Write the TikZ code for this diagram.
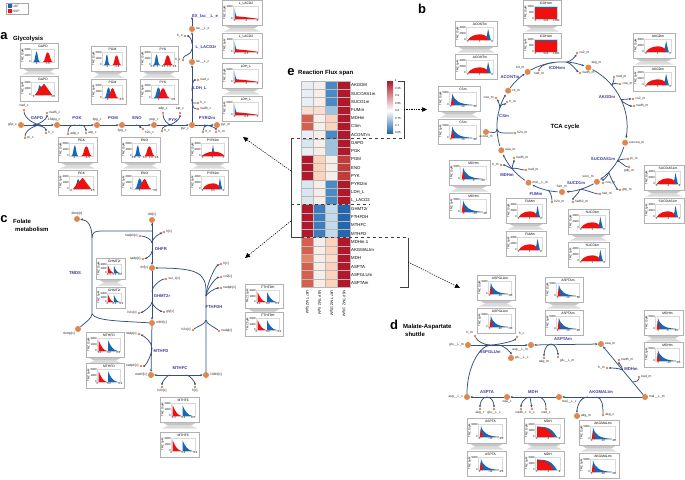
\documentclass[tikz,border=0pt]{standalone}
\usepackage{fontspec}
\setmainfont{Liberation Sans}
\usetikzlibrary{arrows.meta}
\definecolor{morange}{HTML}{E0874E}
\definecolor{pblue}{HTML}{34507F}
\definecolor{rblue}{HTML}{3B3B9E}
\definecolor{ublue}{HTML}{1668B4}
\definecolor{nred}{HTML}{F01010}
\definecolor{hR}{HTML}{B2182B}
\definecolor{hRm}{HTML}{C23A3A}
\definecolor{hR2}{HTML}{D6604D}
\definecolor{hR3}{HTML}{E38468}
\definecolor{hP}{HTML}{FBD3BD}
\definecolor{hP2}{HTML}{F9DDD0}
\definecolor{hP3}{HTML}{FADDCB}
\definecolor{hL}{HTML}{F7EEEA}
\definecolor{hW}{HTML}{E8EEF3}
\definecolor{hW2}{HTML}{D8E6F0}
\definecolor{hB1}{HTML}{9BC3DF}
\definecolor{hB2}{HTML}{C2DAEC}
\definecolor{hB}{HTML}{4A8AC4}
\definecolor{hBm}{HTML}{3B7DBE}
\definecolor{hBD}{HTML}{2567AE}
\tikzset{
 met/.style={circle,fill=morange,draw=none,inner sep=0pt,minimum size=6pt},
 cof/.style={circle,fill=morange,draw=none,inner sep=0pt,minimum size=2.6pt},
 lbl/.style={font=\fontsize{3.3}{3.6}\selectfont,inner sep=0.7pt,text=black!85},
 rlbl/.style={font=\fontsize{4.2}{4.5}\selectfont\bfseries,text=rblue,inner sep=0.5pt},
 rxn/.style={draw=pblue,line width=0.75pt},
 ar/.style={-{Stealth[length=2.6pt,width=2.2pt]}},
 arr2/.style={{Stealth[length=2.6pt,width=2.2pt]}-{Stealth[length=2.6pt,width=2.2pt]}},
 cframe/.style={draw=gray!60,line width=0.8pt,fill=white},
 pframe/.style={draw=gray!30,line width=0.2pt},
 ctitle/.style={font=\fontsize{3.3}{3.5}\selectfont,inner sep=0pt},
 ctick/.style={font=\fontsize{2.8}{3}\selectfont,inner sep=0.5pt},
 cyl/.style={font=\fontsize{2.8}{3}\selectfont,inner sep=0pt},
 hlbl/.style={font=\fontsize{4.3}{4.5}\selectfont,inner sep=0pt},
 hcol/.style={font=\fontsize{3.6}{4}\selectfont,inner sep=0pt},
 plet/.style={font=\fontsize{13}{13}\selectfont\bfseries,inner sep=0pt},
 ptitle/.style={font=\fontsize{6}{6.5}\selectfont\bfseries,inner sep=0pt,anchor=west},
 brk/.style={draw=black!75,line width=0.6pt},
 darr/.style={draw=black,line width=0.55pt,dash pattern=on 1.3pt off 1.1pt,-{Triangle[length=5pt,width=4.5pt]}},
}
% distribution shapes (unit square, y up)
\newcommand\shSep{%
 \fill[ublue] (0.08,0) .. controls (0.16,0) and (0.17,0.85) .. (0.22,0.85) .. controls (0.27,0.85) and (0.28,0) .. (0.36,0) -- cycle;
 \fill[nred] (0.5,0) .. controls (0.6,0) and (0.6,0.78) .. (0.7,0.78) .. controls (0.8,0.78) and (0.82,0) .. (0.92,0) -- cycle;}
\newcommand\shOvl{%
 \fill[ublue] (0.2,0) .. controls (0.28,0) and (0.3,0.8) .. (0.36,0.8) .. controls (0.42,0.8) and (0.45,0) .. (0.55,0) -- cycle;
 \fill[nred] (0.15,0) -- (0.3,0.4) -- (0.55,0.9) -- (0.9,0) -- cycle;}
\newcommand\shOvlB{%
 \fill[ublue] (0.1,0) .. controls (0.2,0) and (0.22,0.85) .. (0.3,0.85) .. controls (0.38,0.85) and (0.42,0) .. (0.5,0) -- cycle;
 \fill[nred] (0.25,0) .. controls (0.35,0) and (0.4,0.8) .. (0.5,0.8) .. controls (0.6,0.8) and (0.65,0) .. (0.78,0) -- cycle;}
\newcommand\shHumpC{%
 \fill[ublue] (0.42,0) -- (0.5,0.9) -- (0.58,0) -- cycle;
 \fill[nred] (0,0) .. controls (0.2,0.3) and (0.4,0.35) .. (0.55,0.35) .. controls (0.75,0.35) and (0.9,0.2) .. (1,0) -- cycle;}
\newcommand\shHump{%
 \fill[ublue] (0.68,0) -- (0.76,0.4) -- (0.8,0.9) -- (0.86,0.3) -- (0.9,0) -- cycle;
 \fill[nred] (0.05,0) .. controls (0.15,0.35) and (0.35,0.45) .. (0.5,0.45) .. controls (0.65,0.45) and (0.75,0.35) .. (0.8,0) -- cycle;}
\newcommand\shDecRB{%
 \fill[nred] (0.05,0) -- (0.05,0.85) .. controls (0.15,0.4) and (0.25,0.05) .. (0.42,0) -- cycle;
 \fill[ublue] (0.46,0) -- (0.46,0.85) .. controls (0.56,0.4) and (0.68,0.05) .. (0.88,0) -- cycle;}
\newcommand\shDecBR{%
 \fill[ublue] (0.04,0) -- (0.04,0.9) .. controls (0.08,0.3) and (0.12,0.1) .. (0.22,0.06) -- (0.22,0) -- cycle;
 \fill[nred] (0.06,0) -- (0.06,0.22) .. controls (0.3,0.2) and (0.7,0.1) .. (0.97,0.02) -- (0.97,0) -- cycle;}
\newcommand\shSpike{%
 \fill[ublue] (0.08,0) -- (0.1,0.92) .. controls (0.18,0.35) and (0.35,0.06) .. (0.85,0.02) -- (0.85,0) -- cycle;
 \fill[nred] (0.05,0) -- (0.09,0.62) -- (0.15,0.25) -- (0.18,0) -- cycle;}
\newcommand\shPlat{\fill[nred] (0.02,0) rectangle (0.98,0.93); \draw[ublue,line width=0.3pt] (0.02,0.95) -- (0.98,0.95);}
\newcommand\shMDH{%
 \fill[ublue] (0.06,0) -- (0.06,0.85) -- (0.4,0.78) .. controls (0.6,0.7) and (0.72,0.45) .. (0.86,0) -- cycle;
 \fill[nred] (0.06,0) -- (0.06,0.8) -- (0.35,0.74) .. controls (0.5,0.65) and (0.62,0.35) .. (0.72,0) -- cycle;}
% one chart: x y w h title shape ylabel xticks yticks
\newcommand\mchart[9]{%
 \begin{scope}[shift={(#1,#2)}]
  \draw[cframe] (0,0) rectangle (#3,#4);
  \node[ctitle] at ({(#3+8)/2},3.2) {#5};
  \node[cyl,rotate=90] at (2.6,{#4/2}) {#7};
  \pgfmathsetmacro\pw{#3-15}\pgfmathsetmacro\ph{#4-12.5}
  \begin{scope}[shift={(11.5,{#4-6})}]
   \begin{scope}[x=\pw pt,y=\ph pt]
    \draw[pframe] (0,0) rectangle (1,1);
    #6
    \foreach \p/\l in {#8} \node[ctick,below] at (\p,0) {\l};
    \foreach \p/\l in {#9} \node[ctick,left] at (0,\p) {\l};
   \end{scope}
  \end{scope}
 \end{scope}}
\newcommand\stand[3]{%
 \fill[gray!45] (#1+3,#2+0.8) -- (#1+#3-3,#2+0.8) -- (#1+#3-8,#2+3.5) -- (#1+8,#2+3.5) -- cycle;
 \fill[gray!28] (#1+8,#2+3.5) -- (#1+#3-8,#2+3.5) -- (#1+#3-2,#2+6.5) -- (#1+2,#2+6.5) -- cycle;}
\def\chH{25}\def\chG{33}
\newcommand\cpair[9]{%
 \mchart{#1}{#2}{#3}{\chH}{#4}{#5}{TMZ 10μM}{#7}{#9}%
 \stand{#1}{#2+\chH}{#3}%
 \mchart{#1}{#2+\chG}{#3}{\chH}{#4}{#6}{TMZ 5μM}{#8}{#9}}
\newcommand\br[5][]{\draw[rxn,#1] (#2) .. controls +(#4) and +(#5) .. (#3);}
\begin{document}
\begin{tikzpicture}[x=1pt,y=-1pt]
\useasboundingbox (0,0) rectangle (685,479);
\fill[white] (0,0) rectangle (685,479);
% legend
\draw[gray!70,line width=0.3pt] (6,3) rectangle (28,14);
\fill[ublue] (7.5,4.3) rectangle (11.5,7.5);
\node[lbl,anchor=west] (legU) at (11.8,6) {U87};
\fill[nred] (7.5,9.3) rectangle (11.5,12.5);
\node[lbl,anchor=west] (legN) at (11.8,11) {NSP};
% panel letters and titles
\node[plet] (la) at (4,36) {a};
\node[ptitle] (ta) at (13,39) {Glycolysis};
\node[plet] (lb) at (422,9) {b};
\node[plet] (lc) at (4,219) {c};
\node[ptitle] (tc1) at (13,221) {Folate};
\node[ptitle] (tc2) at (15,229) {metabolism};
\node[plet] (ld) at (394,325) {d};
\node[ptitle] (td1) at (403,327) {Malate-Aspartate};
\node[ptitle] (td2) at (405,334.5) {shuttle};
\node[plet] (le) at (291,72) {e};
\node[ptitle] (te) at (298,73) {Reaction Flux span};
\node[font=\fontsize{6}{6.5}\selectfont\bfseries] (tb) at (565,127) {TCA cycle};

% ===== charts panel a =====
\cpair{20}{43}{38}{GAPD}{\shSep}{\shOvl}{0.22/1,0.72/1.5}{0.1/1,0.95/1.5}{0/0,0.5/1000,1/2000}
\cpair{91}{46}{35}{PGM}{\shSep}{\shOvlB}{0.22/-1,0.72/-1.4}{0.25/-1,0.95/-1.5}{0/0,0.5/1000,1/2000}
\cpair{140}{46}{38}{PYK}{\shSep}{\shOvlB}{0.05/0.8,0.28/1,0.52/1.2,0.76/1.4,1/1.6}{0.3/1,0.95/1.5}{0/0,0.5/1000,1/2000}
\cpair{58}{137}{39}{PGK}{\shSep}{\shOvl}{0.2/-1,0.75/-1.5}{0.05/-1,0.95/-1.5}{0/0,0.5/1000,1/2000}
\cpair{121}{137}{39}{ENO}{\shSep}{\shOvlB}{0.05/0.8,0.28/1,0.52/1.2,0.76/1.4,1/1.6}{0.3/1,0.95/1.5}{0/0,0.5/1000,1/2000}
\cpair{190}{137}{38}{PYRt2m}{\shHumpC}{\shHump}{0.05/0,0.5/1,0.95/2}{0.05/0,0.5/0.5,0.95/1}{0/0,0.5/2000,1/4000}
\cpair{222}{0}{40}{L\_LACD2}{\shDecBR}{\shDecBR}{0.05/0,0.5/-1,0.95/-2}{0.05/0,0.5/-0.5,0.95/-1}{0/0,1/1000}
\cpair{222}{63}{40}{LDH\_L}{\shDecBR}{\shDecBR}{0.05/0,0.5/-1,0.95/-2}{0.05/0,0.5/-0.5,0.95/-1}{0/0,1/5000}
% ===== charts panel b =====
\cpair{523}{0}{38}{ICDHxm}{\shPlat}{\shPlat}{0.05/0,0.5/500,0.95/1000}{0.05/0,0.5/500,0.95/1000}{0/0,0.5/500,1/1000}
\cpair{455}{21}{42}{ACONTm}{\shHump}{\shHump}{0.05/0,0.5/1,0.95/2}{0.05/0,0.5/1,0.95/2}{0/0,0.5/2000,1/4000}
\cpair{633}{33}{42}{AKGDm}{\shHump}{\shHump}{0.05/0,0.5/1,0.95/2}{0.05/0,0.5/1,0.95/2}{0/0,0.5/2000,1/4000}
\cpair{438}{86}{42}{CSm}{\shSpike}{\shSpike}{0.05/0,0.5/10,0.95/20}{0.05/0,0.5/10,0.95/20}{0/0,1/5000}
\cpair{449}{160}{41}{MDHm}{\shSpike}{\shSpike}{0.12/0,0.5/-5,0.85/-10}{0.12/0,0.55/-10,0.95/-20}{0/0,1/5000}
\cpair{506}{198}{40}{FUMm}{\shHump}{\shHump}{0.05/0,0.5/1,0.95/2}{0.05/0,0.5/1,0.95/2}{0/0,0.5/2000,1/4000}
\cpair{568}{209}{41}{SUCD1m}{\shHump}{\shHump}{0.05/0,0.5/1,0.95/2}{0.05/0,0.5/1,0.95/2}{0/0,0.5/2000,1/4000}
\cpair{644}{165}{40}{SUCOAS1m}{\shHump}{\shHump}{0.05/0,0.5/-1,0.95/-2}{0.05/0,0.5/-1,0.95/-2}{0/0,0.5/2000,1/4000}
% ===== charts panel c =====
\def\chH{21}\def\chG{29}
\cpair{96}{258}{29}{GHMT2r}{\shDecRB}{\shDecRB}{0.1/0.1,0.5/0.2,0.9/0.3}{0/0,0.5/0.2,1/0.4}{0/0,0.5/1000,1/2000}
\def\chH{24}\def\chG{28}
\cpair{245}{284}{38}{FTHFDH}{\shDecRB}{\shDecRB}{0.1/0.1,0.5/0.2,0.9/0.3}{0/0,0.5/0.2,1/0.4}{0/0,0.5/1000,1/2000}
\def\chH{25}\def\chG{31}
\cpair{86}{332}{38}{MTHFD}{\shDecRB}{\shDecRB}{0.1/0.1,0.5/0.2,0.9/0.3}{0/0,0.5/0.2,1/0.4}{0/0,0.5/1000,1/2000}
\def\chH{25}\def\chG{35}
\cpair{160}{397}{39}{MTHFC}{\shDecRB}{\shDecRB}{0.1/0.1,0.5/0.2,0.9/0.3}{0/0,0.5/0.2,1/0.4}{0/0,0.5/1000,1/2000}
% ===== charts panel d =====
\def\chH{25}\def\chG{33}
\cpair{477}{275}{38}{ASPGLUm}{\shSpike}{\shSpike}{0.05/0,0.5/-10,0.95/-20}{0.05/0,0.5/-10,0.95/-20}{0/0,1/5000}
\cpair{545}{277}{38}{ASPTAm}{\shSpike}{\shSpike}{0.05/0,0.5/10,0.95/20}{0.05/0,0.5/10,0.95/20}{0/0,1/5000}
\def\chH{25}\def\chG{32}
\cpair{644}{310}{39}{MDHm}{\shSpike}{\shSpike}{0.12/0,0.5/-5,0.85/-10}{0.12/0,0.55/-10,0.95/-20}{0/0,1/5000}
\def\chH{25}\def\chG{33}
\cpair{467}{418}{39}{ASPTA}{\shSpike}{\shSpike}{0.05/0,0.5/-10,0.95/-20}{0.05/0,0.5/-10,0.95/-20}{0/0,1/5000}
\cpair{524}{418}{40}{MDH}{\shMDH}{\shMDH}{0.05/0,0.5/-1,0.95/-2}{0.05/0,0.5/-1,0.95/-2}{0/0,0.5/1000,1/2000}
\cpair{579}{420}{40}{AKGMALtm}{\shSpike}{\shSpike}{0.05/0,0.5/-10,0.95/-20}{0.05/0,0.5/-10,0.95/-20}{0/0,1/5000}

% ===== panel a pathway =====
\node[met,label={[lbl]left:g3p\_c}] (g3p) at (21,125) {};
\node[met,label={[lbl,xshift=-3pt]above:13dpg\_c}] (dpg) at (57,125) {};
\node[met,label={[lbl]above:3pg\_c}] (pg3) at (97,125) {};
\node[met,label={[lbl]below:2pg\_c}] (pg2) at (122,125) {};
\node[met,label={[lbl]above:pep\_c}] (pep) at (154,125) {};
\node[met,label={[lbl]below left:pyr\_c}] (pyrc) at (192,125) {};
\node[met,label={[lbl]right:pyr\_m}] (pyrm) at (217,125) {};
\node[met,label={[lbl]right:lac\_\_L\_c}] (lacc) at (192,62) {};
\node[met,label={[lbl]right:lac\_\_L\_e}] (lace) at (192,29) {};
\coordinate (exend) at (192,17);
\node[cof,label={[lbl]above:nad\_c}] (nadc) at (24,110) {};
\node[cof,label={[lbl]right:nadh\_c}] (nadhc) at (47,113) {};
\node[cof,label={[lbl]right:pi\_c}] (pic) at (25,138) {};
\node[cof,label={[lbl]right:h\_c}] (hc1) at (46,133) {};
\node[cof,label={[lbl]right:adp\_c}] (adpc) at (68,134) {};
\node[cof,label={[lbl]right:atp\_c}] (atpc) at (86,133) {};
\node[cof,label={[lbl]below right:h2o\_c}] (h2oc) at (143,129) {};
\node[cof,label={[lbl]above:adp\_c}] (adpc2) at (163,113) {};
\node[cof,label={[lbl]above:atp\_c}] (atpc2) at (180,113) {};
\node[cof,label={[lbl]right:h\_c}] (hc2) at (162,131) {};
\node[cof,label={[lbl]right:h\_c}] (hc3) at (203,132) {};
\node[cof,label={[lbl]right:h\_m}] (hm1) at (216,132) {};
\node[cof,label={[lbl]left:h\_e}] (he) at (185,36) {};
\node[cof,label={[lbl]left:h\_c}] (hc4) at (183,60) {};
\node[cof,label={[lbl]right:nad\_c}] (nadc2) at (198,80) {};
\node[cof,label={[lbl]right:h\_c}] (hc5) at (198,103) {};
\node[cof,label={[lbl]right:nadh\_c}] (nadhc2) at (198,109) {};
\draw[rxn,ar] (g3p) -- (dpg);
\draw[rxn,ar] (dpg) -- (pg3);
\draw[rxn,ar] (pg3) -- (pg2);
\draw[rxn,ar] (pg2) -- (pep);
\draw[rxn,ar] (pep) -- (pyrc);
\draw[rxn,ar] (pyrc) -- (pyrm);
\draw[rxn,ar] (pyrc) -- (lacc);
\draw[rxn,ar] (lacc) -- (lace);
\draw[rxn,ar] (lace) -- (exend);
\coordinate (gA1) at (33,125); \coordinate (gA2) at (41,125);
\br{nadc}{gA2}{0,8}{-6,0}
\br[ar]{gA1}{nadhc}{6,0}{0,6}
\br{pic}{gA2}{0,-8}{-6,0}
\br[ar]{gA1}{hc1}{6,0}{0,-6}
\coordinate (pk1) at (75,125); \coordinate (pk2) at (79,125);
\br{adpc}{pk1}{0,-6}{-5,0}
\br[ar]{pk2}{atpc}{5,0}{0,-6}
\coordinate (en) at (136,125);
\br[ar]{en}{h2oc}{4,0}{-3,-2}
\coordinate (pyk1) at (168,125); \coordinate (pyk2) at (172,125);
\br{adpc2}{pyk2}{0,6}{-5,0}
\br[ar]{pyk1}{atpc2}{5,0}{0,6}
\br{hc2}{pyk2}{0,-4}{-5,0}
\coordinate (pt1) at (204,125); \coordinate (pt2) at (208,125);
\br{hc3}{pt2}{0,-4}{-3,0}
\br[ar]{pt1}{hm1}{5,0}{0,-4}
\coordinate (ll1) at (192,49); \coordinate (ll2) at (192,44);
\br{hc4}{ll1}{0,-5}{0,6}
\br[ar]{ll2}{he}{0,-5}{4,0}
\coordinate (ld1) at (192,99); \coordinate (ld2) at (192,91);
\br{nadhc2}{ld1}{-5,0}{0,6}
\br{hc5}{ld1}{-5,0}{0,5}
\br[ar]{ld2}{nadc2}{0,-6}{-5,0}
\node[rlbl] (rGAPD) at (37,118) {GAPD};
\node[rlbl] (rPGK) at (77,118) {PGK};
\node[rlbl] (rPGM) at (113,118) {PGM};
\node[rlbl] (rENO) at (137,118) {ENO};
\node[rlbl] (rPYK) at (173,120) {PYK};
\node[rlbl] (rPYRt) at (207,118) {PYRt2m};
\node[rlbl] (rEX) at (205,16) {EX\_lac\_\_L\_e};
\node[rlbl] (rLL) at (206,47) {L\_LACD2r};
\node[rlbl] (rLDH) at (200,88) {LDH\_L};

% ===== panel b TCA =====
\coordinate (C) at (562,127);
\node[met,label={[lbl]right:cit\_m}] (cit) at (508.1,90.7) {};
\node[met,label={[lbl]above left:icit\_m}] (icit) at (527.6,71.9) {};
\node[met,label={[lbl]above right:akg\_m}] (akg) at (588.4,67.6) {};
\node[met,label={[lbl]right:succoa\_m}] (succoa) at (625.1,142.7) {};
\node[met,label={[lbl]above left:succ\_m}] (succ) at (596.9,181.8) {};
\node[met,label={[lbl]above:fum\_m}] (fum) at (562,192) {};
\node[met,label={[lbl]right:mal\_\_L\_m}] (malm0) at (528.5,182.7) {};
\node[met,label={[lbl]right:oaa\_m}] (oaam0) at (501.3,150.3) {};
\node[met,label={[lbl]below:accoa\_m}] (accoa) at (486,132) {};
\foreach \a/\b in {-143/-125,-119/-70,-62/10,18/54,61/86,94/117,125/155,163/210}
  \draw[rxn,ar] ([shift={(\a:65)}]C) arc[start angle=\a,end angle=\b,radius=65];
\node[cof,label={[lbl]below:nad\_m}] (nadm1) at (539,70) {};
\node[cof,label={[lbl]right:co2\_m}] (co2m1) at (577,53) {};
\node[cof,label={[lbl]right:nadh\_m}] (nadhm1) at (580,73) {};
\node[cof,label={[lbl]right:nad\_m}] (nadm2) at (614,77) {};
\node[cof,label={[lbl]right:coa\_m}] (coam2) at (620,84) {};
\node[cof,label={[lbl]right:co2\_m}] (co2m2) at (633,99) {};
\node[cof,label={[lbl]right:nadh\_m}] (nadhm2) at (634,106) {};
\node[cof,label={[lbl]right:pi\_m}] (pim) at (628,159) {};
\node[cof,label={[lbl]below:gdp\_m}] (gdpm) at (629,167) {};
\node[cof,label={[lbl]right:gtp\_m}] (gtpm) at (620,190) {};
\node[cof,label={[lbl]right:coa\_m}] (coam3) at (603,183) {};
\node[cof,label={[lbl]right:fad\_m}] (fadm) at (600,194) {};
\node[cof,label={[lbl]right:fadh2\_m}] (fadh2m) at (573,202) {};
\node[cof,label={[lbl]right:h2o\_m}] (h2om2) at (552,202) {};
\node[cof,label={[lbl]right:nad\_m}] (nadm3) at (526,170) {};
\node[cof,label={[lbl]right:nadh\_m}] (nadhm3) at (514,158) {};
\node[cof,label={[lbl]left:h\_m}] (hm3) at (501,165) {};
\node[cof,label={[lbl]right:h2o\_m}] (h2om3) at (515,133) {};
\node[cof,label={[lbl]left:coa\_m}] (coam4) at (496,98) {};
\node[cof,label={[lbl]right:h\_m}] (hm4) at (507,102) {};
\coordinate (icA) at (554.1,62.5); \coordinate (icB) at (566.5,62.2);
\coordinate (ak1) at (611.8,85.2); \coordinate (ak2) at (620.9,99.5);
\coordinate (sc1) at (617.1,161.4); \coordinate (sc2) at (608.8,172.2);
\coordinate (sd) at (579.9,189.5); \coordinate (fm) at (548.5,190.6);
\coordinate (md) at (512.2,168.8); \coordinate (cs1) at (497.0,129.3);
\coordinate (cs2) at (499.8,108.0);
\br{nadm1}{icA}{2,-5}{-5,0.5}
\br[ar]{icB}{co2m1}{4,-0.5}{-2,4}
\br[ar]{icB}{nadhm1}{4,0}{-3,-2}
\br{nadm2}{ak1}{0,4}{1.5,-3}
\br{coam2}{ak1}{-3,0}{1.5,-3}
\br[ar]{ak2}{co2m2}{2,0}{-4,0}
\br[ar]{ak2}{nadhm2}{1,3}{-4,0}
\br{pim}{sc1}{-4,0}{1.5,-2}
\br{gdpm}{sc1}{-4,0}{1.5,-2}
\br[ar]{sc2}{gtpm}{1,5}{-3,-1}
\br[ar]{sc2}{coam3}{-1,5}{0,-3}
\br{fadm}{sd}{-5,0}{3,-1}
\br[ar]{sd}{fadh2m}{-1,4}{0,-4}
\br{h2om2}{fm}{0,-4}{2,1}
\br{nadm3}{md}{-5,0}{2,-2}
\br[ar]{md}{nadhm3}{0,-4}{0,4}
\br[ar]{md}{hm3}{-3,-1}{4,0}
\br{accoa}{cs1}{5,0}{0,5}
\br{h2om3}{cs1}{-6,0}{0,5}
\br[ar]{cs2}{coam4}{0,-4}{2,3}
\br[ar]{cs2}{hm4}{0,-4}{-2,2}
\node[rlbl] (rACONT) at (510,77) {ACONTm};
\node[rlbl] (rICDH) at (557,68) {ICDHxm};
\node[rlbl] (rAKGD) at (607,97) {AKGDm};
\node[rlbl] (rCS) at (504,116) {CSm};
\node[rlbl] (rSUCOAS) at (603,159) {SUCOAS1m};
\node[rlbl] (rSUCD) at (576,183) {SUCD1m};
\node[rlbl] (rFUM) at (536,194) {FUMm};
\node[rlbl] (rMDHm) at (507,175) {MDHm};

% ===== panel c folate =====
\node[met,label={[lbl]above:dtmp[c]}] (dtmp) at (77,219) {};
\node[met,label={[lbl]above:dhf[c]}] (dhf) at (152,220) {};
\node[cof,label={[lbl]left:nadph[c]}] (nadphc1) at (140,236) {};
\node[cof,label={[lbl]right:h[c]}] (hc8) at (164,232) {};
\node[cof,label={[lbl]left:nadp[c]}] (nadpc1) at (143,259) {};
\node[met,label={[lbl]left:thf[c]}] (thf) at (152,268) {};
\node[cof,label={[lbl]right:ser\_L[c]}] (serc) at (166,279) {};
\node[cof,label={[lbl]left:h2o[c]}] (h2oc1) at (139,313) {};
\node[cof,label={[lbl]right:gly[c]}] (glyc) at (164,312) {};
\node[met,label={[lbl]right:mlthf[c]}] (mlthf) at (152,323) {};
\node[cof,label={[lbl]left:nadp[c]}] (nadpc2) at (139,334) {};
\node[cof,label={[lbl]left:nadph[c]}] (nadphc2) at (141,366) {};
\node[met,label={[lbl]left:methf[c]}] (methf) at (151,375) {};
\node[met,label={[lbl]right:10fthf[c]}] (fthf) at (206,375) {};
\node[cof,label={[lbl]below:h2o[c]}] (h2oc2) at (162,387) {};
\node[cof,label={[lbl]below:h[c]}] (hc9) at (195,387) {};
\node[met,label={[lbl]below left:dump[c]}] (dump) at (78,329) {};
\node[cof,label={[lbl]right:h[c]}] (hc10) at (221,264) {};
\node[cof,label={[lbl]right:co2[c]}] (co2c) at (221,277) {};
\node[cof,label={[lbl]right:nadph[c]}] (nadphc3) at (221,288) {};
\node[cof,label={[lbl]left:h2o[c]}] (h2oc3) at (193,330) {};
\node[cof,label={[lbl]right:nadp[c]}] (nadpc3) at (219,331) {};
\coordinate (tm1) at (92,314); \coordinate (tm2) at (92,238); \coordinate (tm3) at (152,231);
\draw[rxn] (dump) .. controls (86,322) and (92,318) .. (tm1) -- (tm2) .. controls (92,232) and (95,231) .. (102,231) -- (tm3);
\draw[rxn,ar] (tm3) -- (dhf);
\draw[rxn,ar] (tm2) .. controls (92,226) and (88,220) .. (dtmp);
\draw[rxn] (mlthf) .. controls (120,321) and (96,321) .. (tm1);
\draw[rxn,ar] (dhf) -- (thf);
\coordinate (dj1) at (152,243); \coordinate (dj2) at (152,251);
\br{nadphc1}{dj1}{4,0}{0,-4}
\br[ar]{dj1}{hc8}{0,-5}{-5,2}
\br[ar]{dj2}{nadpc1}{0,4}{4,-1}
\draw[rxn,ar] (thf) -- (mlthf);
\coordinate (gj1) at (152,292); \coordinate (gj2) at (152,302);
\br{serc}{gj1}{-5,0}{0,-6}
\br[ar]{gj2}{glyc}{0,4}{-4,-1}
\br[ar]{gj2}{h2oc1}{0,4}{4,-1}
\draw[rxn,ar] (mlthf) -- (methf);
\coordinate (mj3) at (152,348);
\br[ar]{mj3}{nadpc2}{0,-6}{5,2}
\br[ar]{mj3}{nadphc2}{0,6}{5,0}
\draw[rxn,arr2] (methf) -- (fthf);
\coordinate (fj) at (170,375); \coordinate (fj2) at (186,375);
\br[ar]{fj}{h2oc2}{-3,0}{0,-5}
\br[ar]{fj2}{hc9}{4,0}{0,-5}
\coordinate (fu1) at (206,320); \coordinate (fu2) at (206,292); \coordinate (fu3) at (206,296);
\draw[rxn,ar] (fthf) -- (fu2) .. controls (206,273) and (198,268) .. (thf);
\br[ar]{fu3}{hc10}{0,-10}{-6,2}
\br[ar]{fu3}{co2c}{0,-5}{-6,1}
\br[ar]{fu3}{nadphc3}{0,-2}{-6,0}
\br{h2oc3}{fu1}{3,-3}{0,4}
\br{nadpc3}{fu1}{-3,-3}{0,4}
\node[rlbl] (rDHFR) at (161,249) {DHFR};
\node[rlbl] (rGHMT) at (162,296) {GHMT2r};
\node[rlbl] (rMTHFD) at (161,351) {MTHFD};
\node[rlbl] (rMTHFC) at (180,368) {MTHFC};
\node[rlbl] (rFTHFDH) at (214,307) {FTHFDH};
\node[rlbl] (rTMDS) at (75,273) {TMDS};

% ===== panel d shuttle =====
\node[met,label={[lbl]left:glu\_\_L\_m}] (glum) at (468,345) {};
\node[met,label={[lbl]below left:asp\_\_L\_m}] (aspm) at (531,345) {};
\node[met,label={[lbl]right:oaa\_m}] (oaam) at (601,344) {};
\node[met,label={[lbl]right:mal\_\_L\_m}] (malm) at (645,397) {};
\node[met,label={[lbl]below right:mal\_\_L\_c}] (malc) at (559,397) {};
\node[met,label={[lbl]below:oaa\_c}] (oaac) at (507,397) {};
\node[met,label={[lbl]left:asp\_\_L\_c}] (aspc) at (467,397) {};
\node[met,label={[lbl]right:glu\_\_L\_c}] (gluc) at (511,358) {};
\node[cof,label={[lbl]above left:h\_m}] (hm5) at (475,336) {};
\node[cof,label={[lbl]above right:h\_c}] (hc6) at (517,337) {};
\node[cof,label={[lbl]below:akg\_m}] (akgm2) at (544,358) {};
\node[cof,label={[lbl]below right:glu\_\_L\_m}] (glum2) at (558,357) {};
\node[cof,label={[lbl]left:h\_m}] (hm6) at (607,368) {};
\node[cof,label={[lbl]right:nadh\_m}] (nadhm6) at (619,360) {};
\node[cof,label={[lbl]right:nad\_m}] (nadm6) at (639,377) {};
\node[cof,label={[lbl]below:akg\_c}] (akgc) at (480,409) {};
\node[cof,label={[lbl]below:glu\_\_L\_c}] (gluc2) at (494,409) {};
\node[cof,label={[lbl]below:nadh\_c}] (nadhc3) at (521,409) {};
\node[cof,label={[lbl]below:h\_c}] (hc7) at (532,409) {};
\node[cof,label={[lbl]below:nad\_c}] (nadc3) at (546,409) {};
\node[met,label={[lbl]right:akg\_m}] (akgm3) at (577,416) {};
\node[cof,label={[lbl]right:akg\_c}] (akgc2) at (603,415) {};
\coordinate (ag1) at (490,345); \coordinate (ag2) at (498,345);
\draw[rxn,ar] (glum) -- (aspm);
\br{hm5}{ag1}{2,5}{-6,0}
\br[ar]{ag1}{hc6}{8,0}{-3,4}
\br[ar]{ag2}{gluc}{6,0}{0,-5}
\br{aspc}{ag1}{0,-28}{-12,2}
\draw[rxn,arr2] (aspm) -- (oaam);
\coordinate (at1) at (551,344);
\br[ar]{at1}{akgm2}{-6,0}{0,-5}
\br[ar]{at1}{glum2}{5,0}{0,-5}
\draw[rxn,ar] (malm) -- (oaam);
\coordinate (mdj) at (622.7,370); \coordinate (mdk) at (633,382);
\br[ar]{mdj}{hm6}{-4,-2}{4,0}
\br[ar]{mdj}{nadhm6}{-1,-5}{0,4}
\br{nadm6}{mdk}{0,4}{4,-1}
\draw[rxn,ar] (malm) -- (malc);
\coordinate (ak5) at (588,397); \coordinate (ak6) at (596,397);
\br[ar]{ak5}{akgm3}{-9,0}{0,-8}
\br{akgc2}{ak6}{0,-10}{6,0}
\draw[rxn,ar] (malc) -- (oaac);
\coordinate (mj1) at (538,397); \coordinate (mj2) at (530,397);
\br{nadc3}{mj1}{0,-7}{5,0}
\br[ar]{mj2}{nadhc3}{-6,0}{0,-5}
\draw[rxn,ar] (mj2) -- (hc7);
\draw[rxn,ar] (oaac) -- (aspc);
\coordinate (as1) at (487,397);
\br[ar]{as1}{akgc}{-5,0}{0,-6}
\br[ar]{as1}{gluc2}{5,0}{0,-6}
\node[rlbl] (rASPGLU) at (490,352) {ASPGLUm};
\node[rlbl] (rASPTAm) at (563,339) {ASPTAm};
\node[rlbl] (rMDHd) at (631,369) {MDHm};
\node[rlbl] (rASPTA) at (487,392) {ASPTA};
\node[rlbl] (rMDH) at (533,392) {MDH};
\node[rlbl] (rAKGMAL) at (601,392) {AKGMALtm};

% ===== panel e heatmap =====
\foreach \nm/\ca/\cb/\cc/\cd [count=\i from 0] in {
 AKGDM/hW/hL/hB/hR, SUCOAS1m/hW/hL/hB/hR, SUCD1m/hW/hL/hB/hR, FUMm/hP2/hP2/hB1/hR,
 MDHm/hR2/hL/hP/hR, CSm/hR2/hL/hP/hR, ACONTm/hW/hL/hB/hR, GAPD/hW2/hL/hB1/hR,
 PGK/hW/hL/hB1/hR, PGM/hR/hP/hL/hRm, ENO/hR/hP/hL/hRm, PYK/hR/hP/hL/hRm,
 PYRt2m/hW2/hL/hB/hR, LDH\_L/hW2/hL/hB/hR, L\_LACD2/hW2/hL/hB/hR,
 GHMT2r/hR/hBm/hB2/hBD, FTHFDH/hR/hBm/hB2/hBD, MTHFC/hR/hBm/hB2/hBD, MTHFD/hR/hBm/hB2/hBD,
 MDHm.1/hR2/hL/hP/hR, AKGMALtm/hR2/hL/hP/hR, MDH/hR3/hL/hP3/hR, ASPTA/hR2/hL/hP/hR,
 ASPGLUm/hR2/hL/hP/hR, ASPTAm/hR2/hL/hP/hR}
{
 \pgfmathsetmacro\yy{81+\i*8.24}
 \filldraw[fill=\ca,draw=gray!55,line width=0.35pt] (301,\yy) rectangle +(12.2,8.24);
 \filldraw[fill=\cb,draw=gray!55,line width=0.35pt] (313.2,\yy) rectangle +(12.2,8.24);
 \filldraw[fill=\cc,draw=gray!55,line width=0.35pt] (325.4,\yy) rectangle +(12.2,8.24);
 \filldraw[fill=\cd,draw=gray!55,line width=0.35pt] (337.6,\yy) rectangle +(12.2,8.24);
 \node[hlbl,anchor=west] at (351,\yy+4.3) {\nm};
}
\foreach \t [count=\j from 0] in {U87 TMZ 5μM,NSP TMZ 5μM,U87 TMZ 10μM,NSP TMZ 10μM}
  \node[hcol,rotate=-90,anchor=west] at (307.1+\j*12.2,290) {\t};
% colour bar
\shade[top color=hR,bottom color=white] (387,81) rectangle (393,110.7);
\shade[top color=white,bottom color=hBD] (387,110.7) rectangle (393,133);
\foreach \v/\y in {1/81,0.95/88.4,0.9/95.9,0.85/103.3,0.8/110.7,0.75/118.1,0.7/125.6,0.65/133}
  \node[ctick,anchor=west] at (394.5,\y) {\v};
% brackets
\draw[brk] (398,81) -- (404,81) -- (404,138.7);
\draw[brk,dashed] (291,138.7) -- (404,138.7);
\draw[brk] (291,138.7) -- (291,237.6) -- (301,237.6);
\draw[brk,dashed] (291,204.6) -- (370,204.6);
\draw[brk,dashed] (301,237.6) -- (408,237.6);
\draw[brk] (408,237.6) -- (408,287) -- (400,287);
\coordinate (bk1) at (404,109.5); \coordinate (tg1) at (427,109.5);
\coordinate (bk2) at (291,171); \coordinate (tg2) at (243,137);
\coordinate (bk3) at (291,221); \coordinate (tg3) at (245,258);
\coordinate (bk4) at (408,262); \coordinate (tg4) at (460,288);
\draw[darr] (bk1) -- (tg1);
\draw[darr] (bk2) -- (tg2);
\draw[darr] (bk3) -- (tg3);
\draw[darr] (bk4) -- (tg4);
\end{tikzpicture}
\end{document}
